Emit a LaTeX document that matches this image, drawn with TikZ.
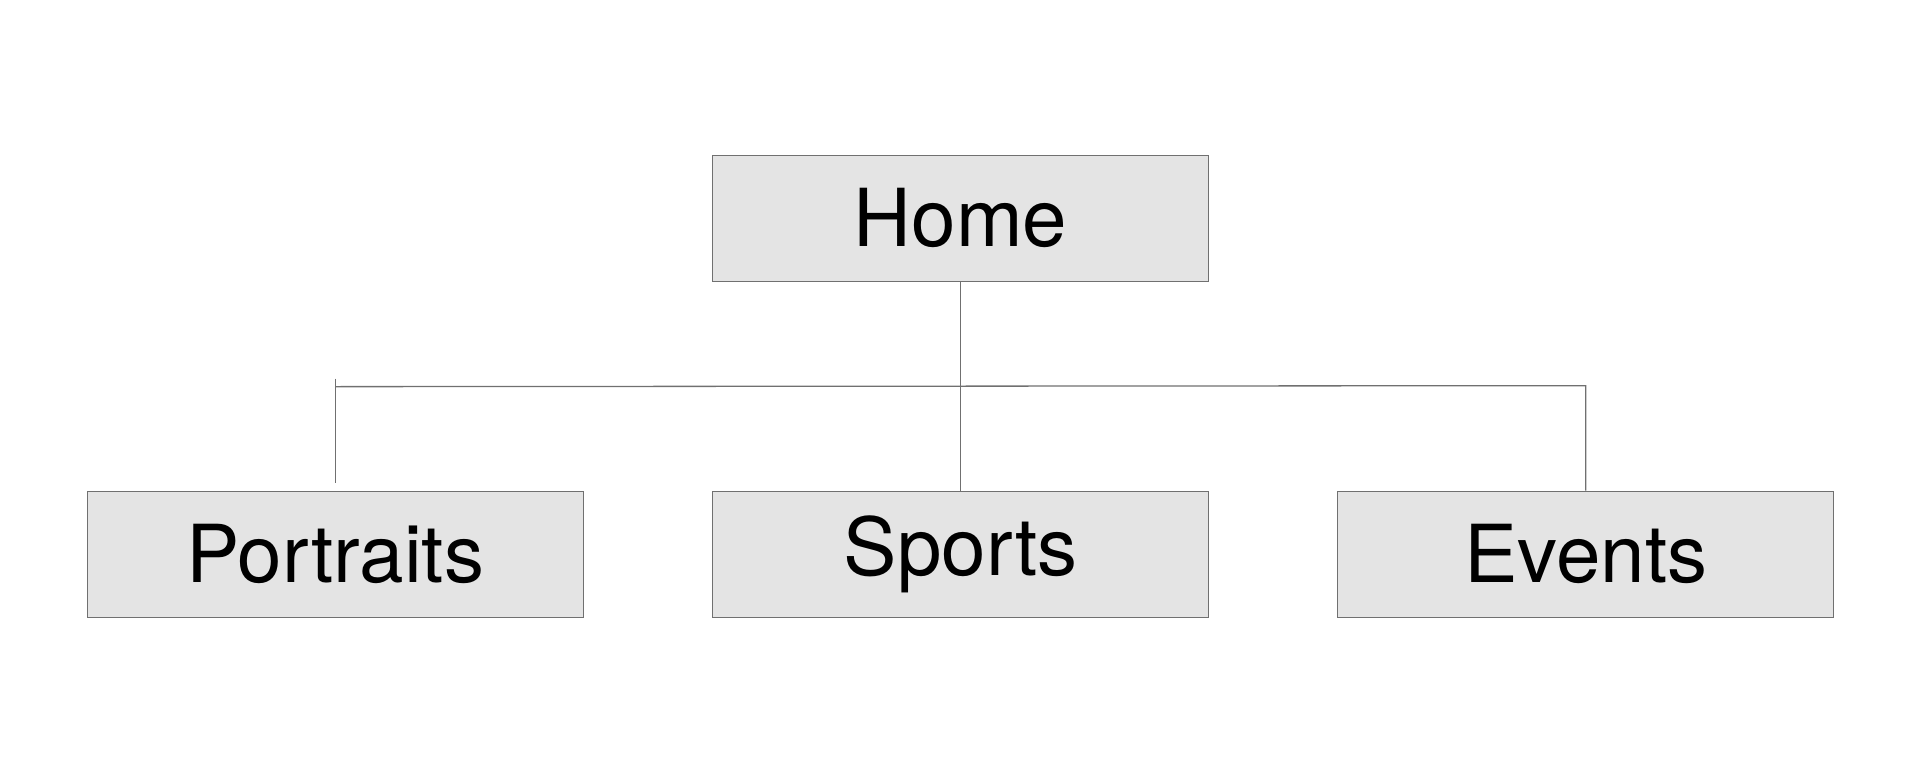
\documentclass[tikz,border=0pt]{standalone}
\usepackage{fontspec}
\setmainfont{TeX Gyre Heros}
\usepackage{xcolor}
\usetikzlibrary{positioning}

\definecolor{boxfill}{HTML}{E4E4E4}
\definecolor{linegray}{HTML}{707070}

\begin{document}
\begin{tikzpicture}[
  x=1pt, y=-1pt,
  node distance=208.7pt and 128pt,
  page/.style={rectangle,draw=linegray,line width=1.3pt,fill=boxfill,
    minimum width=496pt,minimum height=126pt,inner sep=0pt,
    font=\fontsize{80}{96}\selectfont},
  link/.style={draw=linegray,line width=1.3pt}
]
\useasboundingbox (0,0) rectangle (1920,771);
\node[page] (home) at (960.5,218.3) {Home};
\node[page, below=of home] (sports) {Sports};
\node[page, left=of sports] (portraits) {Portraits};
\node[page, right=of sports] (events) {Events};

% tree lines
\coordinate (busleft) at ([yshift=104pt]portraits.north);
\coordinate (busright) at ([yshift=105pt]events.north);
\draw[link] (home) -- (sports);
\draw[link] (busleft) -- (busright) -- (events.north);
\draw[link] ([yshift=112pt]portraits.north) -- ([yshift=8pt]portraits.north);
\end{tikzpicture}
\end{document}
